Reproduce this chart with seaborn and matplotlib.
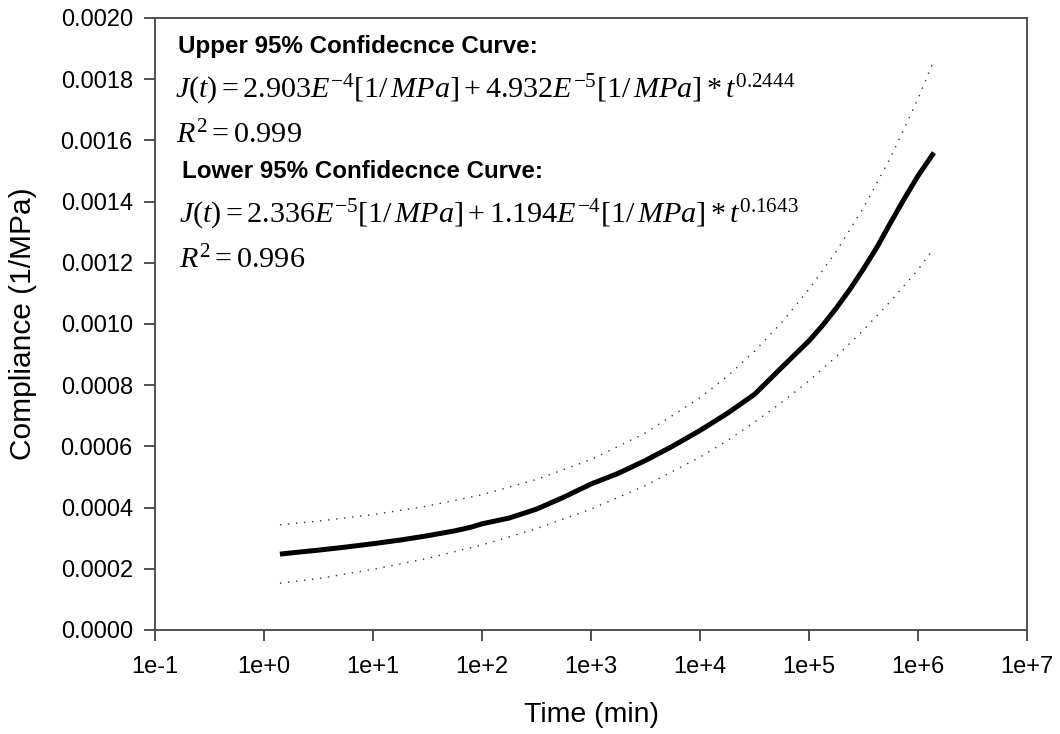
import numpy as np
import pandas as pd
import matplotlib
matplotlib.use("Agg")
import matplotlib.pyplot as plt
import seaborn as sns

# Creep compliance vs. time (log axis), mean curve with 95% confidence bounds
time_mean = [1.4, 1.78, 3.16, 5.62, 10, 17.8, 31.6, 56.2, 79.4, 100, 178, 316,
             562, 1000, 1780, 3160, 5620, 10000, 17800, 31600, 56200, 100000,
             133000, 178000, 237000, 316000, 422000, 562000, 750000, 1000000,
             1400000]
compliance_mean = [2.48e-4, 2.52e-4, 2.61e-4, 2.71e-4, 2.82e-4, 2.94e-4, 3.08e-4,
                   3.24e-4, 3.36e-4, 3.47e-4, 3.66e-4, 3.95e-4, 4.34e-4, 4.77e-4,
                   5.12e-4, 5.54e-4, 6.01e-4, 6.52e-4, 7.08e-4, 7.70e-4, 8.58e-4,
                   9.45e-4, 9.95e-4, 1.052e-3, 1.113e-3, 1.180e-3, 1.252e-3,
                   1.332e-3, 1.410e-3, 1.484e-3, 1.560e-3]

time_bounds = [1.4, 3.16, 10, 31.6, 100, 316, 1000, 3160, 10000, 17800, 31600,
               56200, 100000, 178000, 316000, 562000, 1000000, 1400000]
compliance_upper = [3.44e-4, 3.56e-4, 3.77e-4, 4.05e-4, 4.42e-4, 4.92e-4, 5.57e-4,
                    6.44e-4, 7.59e-4, 8.29e-4, 9.11e-4, 1.005e-3, 1.114e-3,
                    1.237e-3, 1.380e-3, 1.545e-3, 1.736e-3, 1.862e-3]
compliance_lower = [1.53e-4, 1.68e-4, 1.98e-4, 2.34e-4, 2.78e-4, 3.31e-4, 3.95e-4,
                    4.72e-4, 5.65e-4, 6.19e-4, 6.79e-4, 7.44e-4, 8.14e-4,
                    8.94e-4, 9.80e-4, 1.075e-3, 1.177e-3, 1.247e-3]

x_ticks = [1e-1, 1e0, 1e1, 1e2, 1e3, 1e4, 1e5, 1e6, 1e7]
x_tick_labels = ["1e-1", "1e+0", "1e+1", "1e+2", "1e+3", "1e+4", "1e+5", "1e+6", "1e+7"]
y_ticks = [0.0000, 0.0002, 0.0004, 0.0006, 0.0008, 0.0010, 0.0012, 0.0014,
           0.0016, 0.0018, 0.0020]

sns.set_theme(style="white")
plt.rcParams["font.family"] = ["Liberation Sans", "DejaVu Sans"]
plt.rcParams["text.color"] = "black"
plt.rcParams["axes.labelcolor"] = "black"
plt.rcParams["mathtext.fontset"] = "custom"
plt.rcParams["mathtext.rm"] = "Liberation Serif"
plt.rcParams["mathtext.it"] = "Liberation Serif:italic"
plt.rcParams["mathtext.bf"] = "Liberation Serif:bold"

W, H = 1060, 734
fig = plt.figure(figsize=(W / 100, H / 100), dpi=100)
ax = fig.add_axes([155 / W, 1 - 630 / H, (1027 - 155) / W, (630 - 18) / H])

mean_df = pd.DataFrame({"t": time_mean, "J": compliance_mean})
bounds_df = pd.DataFrame({"t": time_bounds, "upper": compliance_upper,
                          "lower": compliance_lower})

sns.lineplot(data=bounds_df, x="t", y="upper", ax=ax, color="#333333",
             linewidth=1.0, linestyle=(0, (1, 4.8)), estimator=None, sort=False)
sns.lineplot(data=bounds_df, x="t", y="lower", ax=ax, color="#333333",
             linewidth=1.0, linestyle=(0, (1, 4.8)), estimator=None, sort=False)
sns.lineplot(data=mean_df, x="t", y="J", ax=ax, color="black",
             linewidth=3.6, estimator=None, sort=False, solid_capstyle="butt",
             solid_joinstyle="round")

ax.set_xscale("log")
ax.set_xlim(1e-1, 1e7)
ax.set_ylim(0, 0.002)
ax.set_xticks(x_ticks)
ax.set_xticklabels(x_tick_labels)
ax.minorticks_off()
ax.set_yticks(y_ticks)
ax.set_yticklabels([f"{v:.4f}" for v in y_ticks])
ax.tick_params(axis="both", which="major", direction="out", length=8, width=1.2,
               color="#333333", labelsize=17, labelcolor="black",
               bottom=True, left=True)
ax.tick_params(axis="y", pad=8)
ax.tick_params(axis="x", pad=11)
for side in ["left", "bottom", "top", "right"]:
    ax.spines[side].set_visible(True)
    ax.spines[side].set_color("#444444")
    ax.spines[side].set_linewidth(1.3)

ax.set_xlabel("Time (min)", fontsize=20.5)
ax.set_ylabel("Compliance (1/MPa)", fontsize=21.5)
ax.xaxis.set_label_coords(0.5, (630 - 702) / 612)
ax.yaxis.set_label_coords((37 - 155) / 872, 0.5)

# Fit equations for the confidence bounds
def put(x, y, s, **kw):
    fig.text(x / W, 1 - y / H, s, va="baseline", ha="left", **kw)

put(178, 53, "Upper 95% Confidecnce Curve:", fontsize=17.4, fontweight="bold")
put(175, 98, r"$J(t) = 2.903E^{-4}[1/\,MPa] + 4.932E^{-5}[1/\,MPa]*t^{0.2444}$",
    fontsize=21.7)
put(176, 143, r"$R^2 = 0.999$", fontsize=21.7)
put(182, 178, "Lower 95% Confidecnce Curve:", fontsize=17.4, fontweight="bold")
put(179, 223, r"$J(t) = 2.336E^{-5}[1/\,MPa] + 1.194E^{-4}[1/\,MPa]*t^{0.1643}$",
    fontsize=21.7)
put(179, 268, r"$R^2 = 0.996$", fontsize=21.7)

fig.savefig("out.png", dpi=100, facecolor="white")
